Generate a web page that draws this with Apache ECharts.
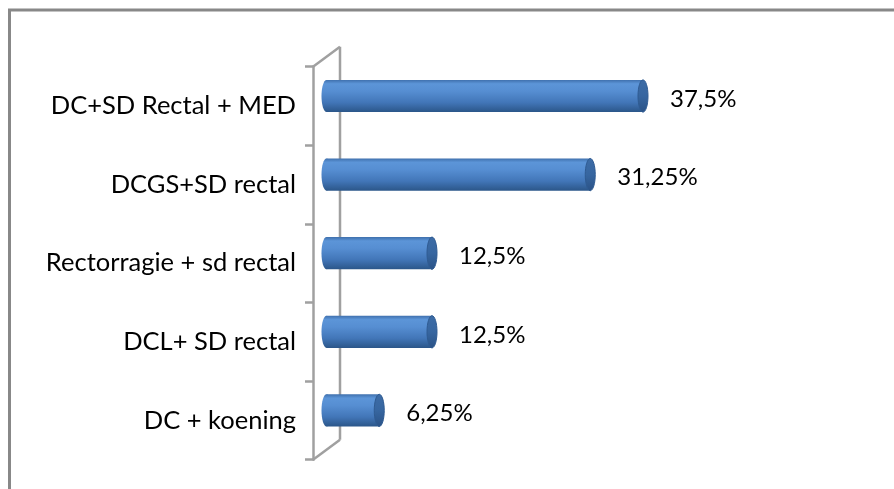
<!DOCTYPE html>
<html>
<head>
<meta charset="utf-8">
<script src="https://cdn.jsdelivr.net/npm/echarts@6/dist/echarts.min.js"></script>
<style>
  html, body { margin: 0; padding: 0; background: #ffffff; }
  #chart { width: 894px; height: 489px; }
</style>
</head>
<body>
<div id="chart"></div>
<script>
// Categories, top to bottom
const categories = [
  'DC+SD Rectal + MED',
  'DCGS+SD rectal',
  'Rectorragie + sd rectal',
  'DCL+ SD rectal',
  'DC + koening'
];
// Share of cases, in percent
const values = [37.5, 31.25, 12.5, 12.5, 6.25];

// Value axis range (hidden)
const axisMin = 0;
const axisMax = 60;

const FONT = 'Lato, "Liberation Sans", Arial, sans-serif';
// Depth of the pseudo-3D wall
const DX = 13.5;
const DY = 10;
const WALL = '#a0a0a0';

const pct = v => String(v).replace('.', ',') + '%';

const chart = echarts.init(document.getElementById('chart'), null, { renderer: 'canvas' });

const bodyGradient = new echarts.graphic.LinearGradient(0, 0, 0, 1, [
  { offset: 0, color: '#3f70ad' },
  { offset: 0.12, color: '#5c95d8' },
  { offset: 0.35, color: '#568ed2' },
  { offset: 0.7, color: '#4276b8' },
  { offset: 1, color: '#2b5689' }
]);
const capGradient = new echarts.graphic.LinearGradient(0, 0, 0, 1, [
  { offset: 0, color: '#3d6ca6' },
  { offset: 0.5, color: '#3766a0' },
  { offset: 1, color: '#2a5286' }
]);

function renderWall(params, api) {
  const cs = params.coordSys;
  const x0 = api.coord([axisMin, 0])[0];
  const top = cs.y, bottom = cs.y + cs.height;
  const fx = x0 - DX, bx = x0 + DX;
  const style = { stroke: WALL, lineWidth: 2.5, fill: null };
  return {
    type: 'group',
    children: [
      { type: 'line', shape: { x1: bx, y1: top - DY, x2: bx, y2: bottom - DY }, style },
      { type: 'line', shape: { x1: fx, y1: top + DY, x2: bx, y2: top - DY }, style },
      { type: 'line', shape: { x1: fx, y1: bottom + DY, x2: bx, y2: bottom - DY }, style }
    ]
  };
}

function renderBar(params, api) {
  const v = api.value(0);
  const i = api.value(1);
  const p0 = api.coord([axisMin, i]);
  const p1 = api.coord([v, i]);
  const band = api.size([0, 1])[1];
  const h = band * 0.41;
  const r = 5;
  const cy = p0[1];
  const top = cy - h / 2;
  return {
    type: 'group',
    children: [
      { type: 'ellipse', shape: { cx: p0[0], cy: cy, rx: r, ry: h / 2 }, style: { fill: bodyGradient } },
      { type: 'rect', shape: { x: p0[0], y: top, width: p1[0] - p0[0], height: h }, style: { fill: bodyGradient } },
      { type: 'ellipse', shape: { cx: p1[0], cy: cy, rx: r, ry: h / 2 },
        style: { fill: capGradient, stroke: '#2f5b92', lineWidth: 1 } },
      { type: 'text', x: p1[0] + r + 22, y: cy + 3,
        style: { text: pct(v), fill: '#000000', font: '24px ' + FONT,
                 textAlign: 'left', textVerticalAlign: 'middle' } }
    ]
  };
}

chart.setOption({
  animation: false,
  backgroundColor: '#ffffff',
  graphic: [
    { type: 'rect', shape: { x: 9.5, y: 10, width: 950, height: 560 },
      style: { fill: null, stroke: '#888888', lineWidth: 3 }, z: 0 }
  ],
  grid: [
    { left: 326.5, top: 56.7, width: 506.4, height: 393 },
    { left: 326.5 - DX, top: 56.7 + DY, width: 20, height: 393 }
  ],
  xAxis: [
    { type: 'value', gridIndex: 0, min: axisMin, max: axisMax, show: false },
    { type: 'value', gridIndex: 1, min: axisMin, max: axisMax, show: false }
  ],
  yAxis: [
    { type: 'category', gridIndex: 0, data: categories, inverse: true, show: false },
    {
      type: 'category', gridIndex: 1, data: categories, inverse: true,
      axisLine: { show: true, lineStyle: { color: WALL, width: 2.5 } },
      axisTick: { show: true, length: 8, lineStyle: { color: WALL, width: 2.5 } },
      axisLabel: { margin: 17, color: '#000000', fontSize: 25.5, fontFamily: FONT },
      splitLine: { show: false }
    }
  ],
  series: [
    {
      type: 'custom', name: 'wall', xAxisIndex: 0, yAxisIndex: 0,
      data: [[0, 0]], renderItem: renderWall, z: 1, silent: true
    },
    {
      type: 'custom', name: 'share', xAxisIndex: 0, yAxisIndex: 0,
      data: values.map((v, i) => [v, i]),
      encode: { x: 0, y: 1 },
      renderItem: renderBar, z: 3
    }
  ]
});
</script>
</body>
</html>
